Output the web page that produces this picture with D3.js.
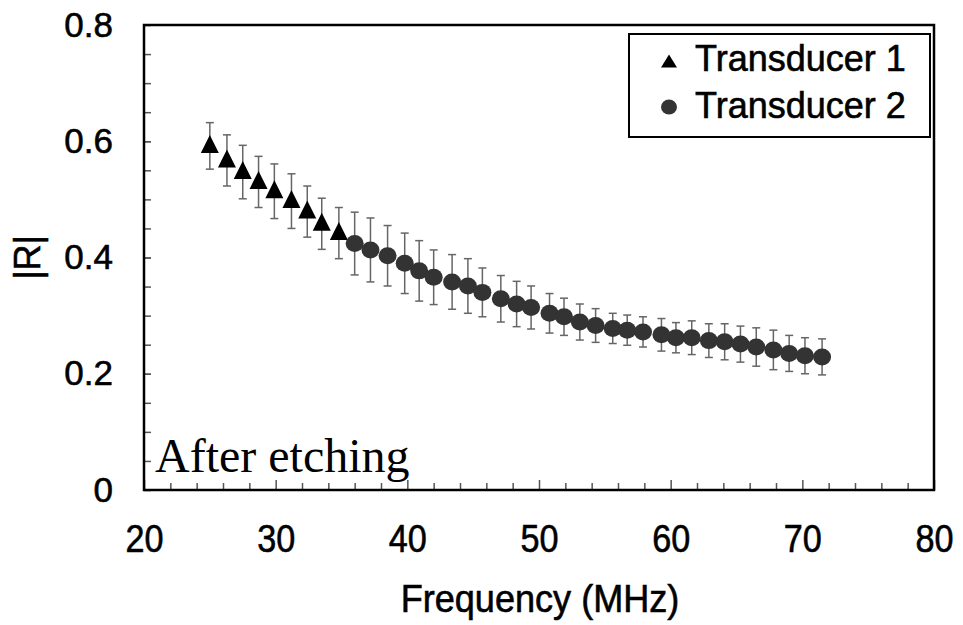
<!DOCTYPE html>
<html>
<head>
<meta charset="utf-8">
<script src="https://cdn.jsdelivr.net/npm/d3@7"></script>
<style>
  html, body { margin: 0; padding: 0; background: #fff; }
  svg { display: block; }
</style>
</head>
<body>
<svg id="chart" width="963" height="625"></svg>
<script>
// Reflection coefficient |R| versus frequency, two transducers, after etching
const freq1 = [25.0, 26.3, 27.5, 28.7, 29.9, 31.2, 32.4, 33.5, 34.8];
const r1    = [0.592, 0.567, 0.547, 0.530, 0.514, 0.497, 0.479, 0.458, 0.442];
const err1  = [0.040, 0.044, 0.046, 0.044, 0.047, 0.047, 0.044, 0.044, 0.044];

const freq2 = [36.0, 37.2, 38.5, 39.8, 40.9, 42.0, 43.4, 44.6, 45.7, 47.1,
               48.3, 49.4, 50.8, 51.9, 53.1, 54.3, 55.6, 56.7, 57.9, 59.3,
               60.4, 61.6, 62.9, 64.1, 65.3, 66.5, 67.8, 69.0, 70.2, 71.5];
const r2    = [0.424, 0.413, 0.403, 0.390, 0.377, 0.366, 0.358, 0.351, 0.340, 0.329,
               0.320, 0.314, 0.304, 0.298, 0.289, 0.283, 0.278, 0.275, 0.272, 0.267,
               0.262, 0.262, 0.257, 0.255, 0.251, 0.246, 0.241, 0.235, 0.231, 0.229];
const err2  = [0.054, 0.055, 0.052, 0.052, 0.052, 0.047, 0.047, 0.047, 0.042, 0.040,
               0.039, 0.037, 0.034, 0.032, 0.031, 0.029, 0.026, 0.026, 0.026, 0.028,
               0.026, 0.029, 0.029, 0.031, 0.031, 0.033, 0.034, 0.031, 0.031, 0.031];

const seriesNames = ["Transducer 1", "Transducer 2"];
const xTickValues = [20, 30, 40, 50, 60, 70, 80];
const yTickValues = [0, 0.2, 0.4, 0.6, 0.8];
const xLabel = "Frequency (MHz)";
const yLabel = "|R|";
const note = "After etching";

const svg = d3.select("#chart");
const plot = { left: 144, right: 934, top: 25, bottom: 490 };

const x = d3.scaleLinear().domain([20, 80]).range([plot.left, plot.right]);
const y = d3.scaleLinear().domain([0, 0.8]).range([plot.bottom, plot.top]);

const sans = "'Liberation Sans', Arial, sans-serif";
// slightly heavier strokes on the sans labels
const heavy = sel => sel.attr("stroke", "#000").attr("stroke-width", 0.6);

// minor ticks, drawn inward
const yMinor = d3.range(0.05, 0.8, 0.05);
svg.append("g")
  .attr("transform", `translate(${plot.left},0)`)
  .call(d3.axisLeft(y).tickValues(yMinor).tickSize(-7).tickFormat(""))
  .call(g => g.select(".domain").remove())
  .call(g => g.selectAll("line").attr("stroke", "#555").attr("stroke-width", 1.5));

const xMinor = d3.range(22, 80, 2).filter(v => v % 10 !== 0);
svg.append("g")
  .attr("transform", `translate(0,${plot.bottom})`)
  .call(d3.axisBottom(x).tickValues(xMinor).tickSize(-7).tickFormat(""))
  .call(g => g.select(".domain").remove())
  .call(g => g.selectAll("line").attr("stroke", "#555").attr("stroke-width", 1.5));

// major ticks and labels; x labels are slightly condensed
svg.append("g")
  .attr("transform", `translate(0,${plot.bottom})`)
  .call(d3.axisBottom(x).tickValues(xTickValues).tickSize(-10).tickPadding(0).tickFormat(d3.format("d")))
  .call(g => g.select(".domain").remove())
  .call(g => g.selectAll("line").attr("stroke", "#555").attr("stroke-width", 1.5))
  .call(g => g.selectAll("text")
    .attr("dy", null).attr("y", 0)
    .attr("transform", "translate(0,62) scale(0.9,1)")
    .attr("font-family", sans).attr("font-size", 38).attr("fill", "#000")
    .call(heavy));

svg.append("g")
  .attr("transform", `translate(${plot.left},0)`)
  .call(d3.axisLeft(y).tickValues(yTickValues).tickSize(-7).tickPadding(31)
    .tickFormat(d => d === 0 ? "0" : d.toFixed(1)))
  .call(g => g.select(".domain").remove())
  .call(g => g.selectAll("line").attr("stroke", "#555").attr("stroke-width", 1.5))
  .call(g => g.selectAll("text")
    .attr("font-family", sans).attr("font-size", 35).attr("fill", "#000")
    .call(heavy));

// plot frame
svg.append("rect")
  .attr("x", plot.left).attr("y", plot.top)
  .attr("width", plot.right - plot.left).attr("height", plot.bottom - plot.top)
  .attr("fill", "none").attr("stroke", "#000").attr("stroke-width", 2.5);

// axis titles
svg.append("text")
  .attr("transform", `translate(${(plot.left + plot.right) / 2 + 1},612) scale(0.95,1)`)
  .attr("text-anchor", "middle")
  .attr("font-family", sans).attr("font-size", 38).attr("fill", "#000")
  .call(heavy)
  .text(xLabel);

svg.append("text")
  .attr("transform", `translate(40,${y(0.4)}) rotate(-90)`)
  .attr("text-anchor", "middle")
  .attr("font-family", sans).attr("font-size", 36).attr("fill", "#000")
  .call(heavy)
  .text(yLabel);

// annotation
svg.append("text")
  .attr("x", 155).attr("y", 472)
  .attr("font-family", "'Liberation Serif', 'Times New Roman', serif")
  .attr("font-size", 48).attr("fill", "#000")
  .text(note);

// error bars
function errorBars(fs, rs, es) {
  const g = svg.append("g").attr("stroke", "#666").attr("stroke-width", 1.5);
  const d = fs.map((f, i) => ({ f, r: rs[i], e: es[i] }));
  g.selectAll("line.v").data(d).join("line")
    .attr("x1", p => x(p.f)).attr("x2", p => x(p.f))
    .attr("y1", p => y(p.r + p.e)).attr("y2", p => y(p.r - p.e));
  g.selectAll("line.t").data(d).join("line")
    .attr("x1", p => x(p.f) - 4).attr("x2", p => x(p.f) + 4)
    .attr("y1", p => y(p.r + p.e)).attr("y2", p => y(p.r + p.e));
  g.selectAll("line.b").data(d).join("line")
    .attr("x1", p => x(p.f) - 4).attr("x2", p => x(p.f) + 4)
    .attr("y1", p => y(p.r - p.e)).attr("y2", p => y(p.r - p.e));
}
errorBars(freq1, r1, err1);
errorBars(freq2, r2, err2);

// markers
const tri = (w, h) => `M0,${-h / 2}L${w / 2},${h / 2}L${-w / 2},${h / 2}Z`;
svg.append("g").selectAll("path")
  .data(freq1.map((f, i) => ({ f, r: r1[i] })))
  .join("path")
  .attr("d", tri(18, 18))
  .attr("transform", p => `translate(${x(p.f)},${y(p.r) - 2})`)
  .attr("fill", "#000");

svg.append("g").selectAll("ellipse")
  .data(freq2.map((f, i) => ({ f, r: r2[i] })))
  .join("ellipse")
  .attr("cx", p => x(p.f)).attr("cy", p => y(p.r))
  .attr("rx", 9).attr("ry", 8.5)
  .attr("fill", "#333");

// legend
const lg = svg.append("g");
lg.append("rect")
  .attr("x", 629).attr("y", 34).attr("width", 301).attr("height", 103)
  .attr("fill", "#fff").attr("stroke", "#000").attr("stroke-width", 2);
lg.append("path").attr("d", tri(16, 13))
  .attr("transform", "translate(669,61)").attr("fill", "#000");
lg.append("ellipse").attr("cx", 669).attr("cy", 107).attr("rx", 8).attr("ry", 7.5)
  .attr("fill", "#333");
lg.selectAll("text").data(seriesNames).join("text")
  .attr("x", 695).attr("y", (d, i) => 71 + i * 47)
  .attr("font-family", sans).attr("font-size", 36).attr("fill", "#000")
  .call(heavy)
  .text(d => d);
</script>
</body>
</html>
